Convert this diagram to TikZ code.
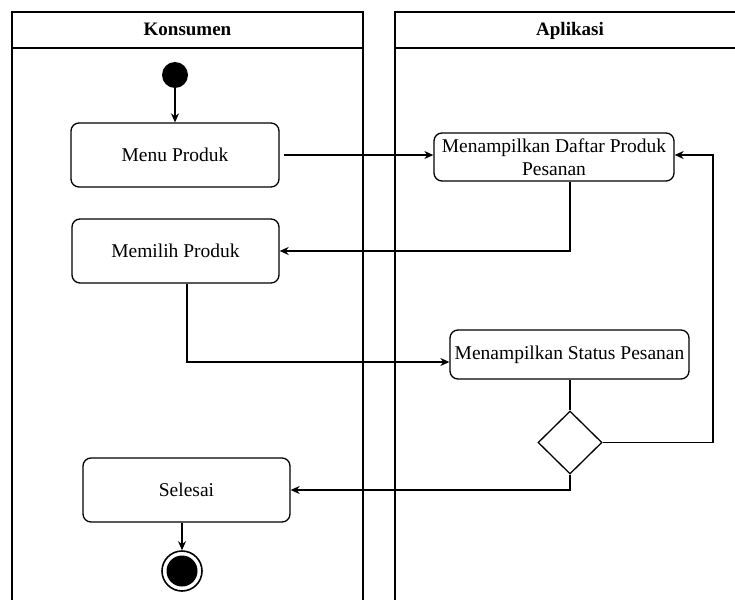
\documentclass[tikz,border=0pt]{standalone}
\usepackage{fontspec}
\setmainfont{Liberation Serif}
\usetikzlibrary{shapes.geometric,arrows.meta}
\begin{document}
\begin{tikzpicture}[x=1pt,y=-1pt,
  lane/.style={draw,line width=1.3pt},
  act/.style={draw,line width=1.3pt,rounded corners=8pt,align=center,font=\fontsize{19.5}{23.5}\selectfont,inner sep=0pt},
  flow/.style={line width=1.2pt,-{Stealth[length=9pt,width=8pt]}},
  plain/.style={line width=1.2pt}]
\useasboundingbox (0,0) rectangle (735,599);
% swimlanes
\draw[lane] (12,605) -- (12,12) -- (363,12) -- (363,605);
\draw[lane] (12,48) -- (363,48);
\draw[lane] (395,605) -- (395,12) -- (740,12);
\draw[lane] (395,48) -- (740,48);
\node[font=\bfseries\fontsize{19}{20}\selectfont,anchor=base] (hk) at (187.5,36) {Konsumen};
\node[font=\bfseries\fontsize{19}{20}\selectfont,anchor=base] (ha) at (570,36) {Aplikasi};
% nodes
\node[circle,fill=black,minimum size=26pt,inner sep=0pt] (start) at (175,75) {};
\node[act,minimum width=208pt,minimum height=64pt] (menu) at (175,155) {Menu Produk};
\node[act,minimum width=207pt,minimum height=64pt] (pilih) at (175.5,251) {Memilih Produk};
\node[act,minimum width=240pt,minimum height=48pt] (daftar) at (554,157) {Menampilkan Daftar Produk\\Pesanan};
\node[act,minimum width=239pt,minimum height=49pt] (status) at (569.5,354.5) {Menampilkan Status Pesanan};
\node[diamond,draw,line width=1.3pt,minimum width=64pt,minimum height=63pt,inner sep=0pt] (dec) at (570,442.5) {};
\node[act,minimum width=207pt,minimum height=64pt] (selesai) at (186.5,490) {Selesai};
\node[circle,draw,line width=1.6pt,minimum size=40pt,inner sep=0pt] (end) at (182,571) {};
\node[circle,fill=black,minimum size=31pt,inner sep=0pt] (endin) at (end.center) {};
\coordinate (c1) at (713,442.5);
\coordinate (c2) at (713,155);
% connectors
\draw[flow] (start) -- (menu);
\draw[flow] ([xshift=4pt]menu.east) -- (menu.east -| daftar.west);
\draw[flow] (daftar.south -| 570,0) |- (pilih.east);
\draw[flow] (pilih.south -| 187,0) |- (status.west |- 0,362);
\draw[plain] (status.south -| dec.north) -- (dec.north);
\draw[flow] (dec.east) -- (c1) -- (c2) -- (daftar.east |- c2);
\draw[flow] (dec.south) |- (selesai.east);
\draw[flow] (selesai.south -| end.north) -- (end.north);
\end{tikzpicture}
\end{document}
